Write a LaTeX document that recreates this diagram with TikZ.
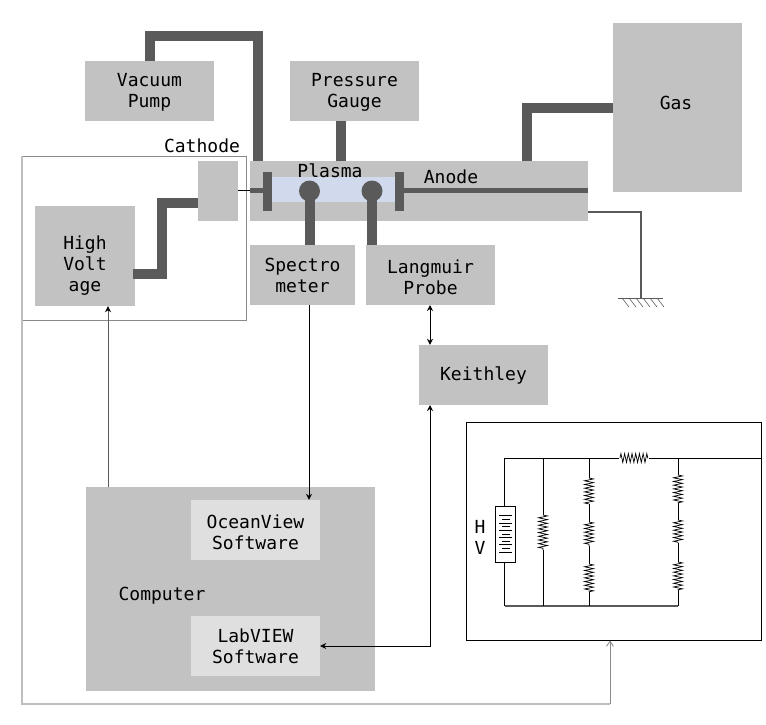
\documentclass[tikz,border=0pt]{standalone}
\usepackage{fontspec}
\setmonofont{DejaVu Sans Mono}
\usepackage{xcolor}
\usetikzlibrary{arrows.meta,calc,decorations.pathmorphing}
\definecolor{RigGray}{HTML}{C2C2C2}
\definecolor{RigPale}{HTML}{DFDFDF}
\definecolor{RigPipe}{HTML}{5A5A5A}
\definecolor{RigPlasma}{HTML}{D0DAEC}
\definecolor{RigFrame}{HTML}{8A8A8A}
\definecolor{RigLoop}{HTML}{BEBEBE}
\newcommand{\dropby}[1]{\rule{0pt}{\dimexpr 13.5pt+2\dimexpr #1pt\relax\relax}}
\tikzset{
  rigbox/.style={fill=RigGray,inner sep=0pt,align=center},
  softbox/.style={fill=RigPale,inner sep=0pt,align=center},
  pipe/.style={RigPipe,line width=10pt,line join=miter},
  sig/.style={black,line width=0.9pt,-{Stealth[length=6pt,width=6pt,color=black]}},
  sigboth/.style={black,line width=0.9pt,{Stealth[length=6pt,width=6pt]}-{Stealth[length=6pt,width=6pt]}},
  wire/.style={black,line width=0.7pt},
  res/.style={wire,decorate,decoration={zigzag,segment length=3.7pt,amplitude=4.5pt}},
}
\begin{document}
\begin{tikzpicture}[x=1pt,y=-1pt,font=\ttfamily\fontsize{18}{21}\selectfont]
  \path[use as bounding box] (0,0) rectangle (766,724);

  % High voltage enclosure
  \node[draw=RigFrame,line width=0.9pt,minimum width=224pt,minimum height=164pt,inner sep=0pt]
    (hvframe) at (134,238) {};

  % Gray boxes
  \node[rigbox,minimum width=129pt,minimum height=60pt] (vac) at (149.5,91) {\dropby{1}Vacuum\\Pump};
  \node[rigbox,minimum width=129pt,minimum height=60pt] (gauge) at (354.5,91) {\dropby{1}Pressure\\Gauge};
  \node[rigbox,minimum width=129pt,minimum height=169pt] (gas) at (677.5,107.5) {};
  \node[rigbox,minimum width=338pt,minimum height=60pt] (tube) at (419,191) {};
  \node[rigbox,minimum width=40pt,minimum height=60pt] (cat) at (218,191) {};
  \node[rigbox,minimum width=100pt,minimum height=100pt] (hv) at (85,256) {\dropby{10}High\\Volt\\age};
  \node[rigbox,minimum width=105pt,minimum height=60pt] (spec) at (302.5,275) {Spectro\\meter};
  \node[rigbox,minimum width=129pt,minimum height=60pt] (lang) at (430.5,275) {\dropby{2}Langmuir\\Probe};
  \node[rigbox,minimum width=129pt,minimum height=60pt] (keith) at (483.5,375) {Keithley};
  \node[rigbox,minimum width=289pt,minimum height=204pt] (comp) at (230.5,589) {};
  \node[softbox,minimum width=129pt,minimum height=60pt] (ocean) at (255.5,530) {\dropby{2}OceanView\\Software};
  \node[softbox,minimum width=129pt,minimum height=60pt] (lab) at (255.5,646) {LabVIEW\\Software};

  % Discharge region
  \node[fill=RigPlasma,inner sep=0pt,minimum width=123pt,minimum height=25pt] (plasma) at (333.5,189.5) {};

  % Labels that stand alone
  \node (gaslabel) at (676,103) {Gas};
  \node (catlabel) at (202,146) {Cathode};
  \node (plasmalabel) at (330,171) {Plasma};
  \node (anlabel) at (451,177) {Anode};
  \node (complabel) at (162,596) {Computer};

  % Pipes
  \coordinate (pumpcorner) at (258,36);
  \coordinate (gaugeport) at (341,121);
  \coordinate (gascorner) at (527,108);
  \coordinate (hvport) at (133,274);
  \coordinate (hvcorner) at (162,203);
  \draw[pipe] (vac.north) |- (pumpcorner) -- (pumpcorner |- tube.north);
  \draw[pipe] (gaugeport) -- (gaugeport |- tube.north);
  \draw[pipe] (gas.west |- gascorner) -- (gascorner) -- (gascorner |- tube.north);
  \draw[pipe] (hvport) -- (hvport -| hvcorner) -- (hvcorner) -- (hvcorner -| cat.west);

  % Electrodes and probes
  \node[fill=RigPipe,inner sep=0pt,minimum width=9pt,minimum height=39pt] (catplate) at (267.5,191.5) {};
  \node[fill=RigPipe,inner sep=0pt,minimum width=9pt,minimum height=39pt] (anplate) at (399.5,191.5) {};
  \node[circle,fill=RigPipe,inner sep=0pt,minimum size=21pt] (ballone) at (309.5,191) {};
  \node[circle,fill=RigPipe,inner sep=0pt,minimum size=21pt] (balltwo) at (372,191) {};
  \draw[pipe] (ballone.center) -- (ballone |- spec.north);
  \draw[pipe] (balltwo.center) -- (balltwo |- lang.north);
  \draw[RigPipe,line width=5pt] (anplate.east |- 0,190.5) -- (tube.east |- 0,190.5);
  \draw[RigPipe,line width=5pt] (catplate.west |- 0,190.5) -- (tube.west |- 0,190.5);
  \draw[black,line width=0.7pt] (cat.east |- 0,190.5) -- (tube.west |- 0,190.5);

  % Ground
  \coordinate (gndstart) at (588,212);
  \coordinate (gndfoot) at (641,298);
  \draw[RigPipe,line width=1.4pt] (gndstart) -- (gndfoot |- gndstart) -- (gndfoot);
  \draw[RigPipe,line width=0.9pt] (618,298) -- (663,298);
  \foreach \gx in {622,629,636,643,650,657} {
    \draw[RigPipe,line width=0.6pt] (\gx,298) -- ++(7,9);
  }

  % Signal lines
  \coordinate (compout) at (108,487);
  \coordinate (specout) at (309,305);
  \coordinate (langport) at (430,305);
  \coordinate (keithport) at (430,405);
  \draw[sig,RigPipe] (compout) -- (compout |- hv.south);
  \draw[sig] (specout) -- (specout |- ocean.north);
  \draw[sigboth] (langport) -- (langport |- keith.north);
  \draw[sigboth] (keithport) |- (lab.east);

  % Circuit panel
  \node[draw=black,line width=1pt,minimum width=295pt,minimum height=218pt,inner sep=0pt]
    (circ) at (613.5,531) {};
  \coordinate (topleft) at (504.5,458);
  \coordinate (botleft) at (504.5,606);
  \node[draw=black,line width=0.8pt,fill=white,inner sep=0pt,minimum width=20pt,minimum height=56pt]
    (batt) at (505.3,534.5) {};
  \node (hlabel) at (480,527) {H};
  \node (vlabel) at (480,548) {V};
  \foreach \bi in {0,2,...,10} {
    \draw[wire] (499,515.7+3.63*\bi) -- (512,515.7+3.63*\bi);
  }
  \foreach \bi in {1,3,...,9} {
    \draw[wire] (502,515.7+3.63*\bi) -- (510,515.7+3.63*\bi);
  }
  \draw[wire] (topleft |- batt.north) -- (topleft) -- (topleft -| circ.east);
  \draw[wire] (botleft |- batt.south) -- (botleft);
  \draw[RigPipe,line width=1.3pt] (botleft) -- (678,606);

  % Branch wires and resistors
  \foreach \rx/\ra/\rb in {543/458/515,543/550/606,589/458/478,589/504/522,589/546/564,589/592/606,678/458/475,678/503/520,678/543/562,678/590/606} {
    \draw[wire] (\rx,\ra) -- (\rx,\rb);
  }
  \foreach \rx/\ra/\rb in {543/515/550,589/478/504,589/522/546,589/564/592,678/475/503,678/520/543,678/562/590} {
    \draw[res] (\rx,\ra) -- (\rx,\rb);
  }
  \fill[white] (619,452) rectangle (649,464);
  \draw[res] (620,458) -- (648,458);

  % Return loop from the enclosure to the panel
  \coordinate (loopcorner) at (610,704);
  \draw[RigLoop,line width=2pt] (hvframe.north west) |- (loopcorner);
  \draw[RigFrame,line width=0.9pt,-{Straight Barb[length=5pt,width=7pt]}] (loopcorner) -- (loopcorner |- circ.south);
\end{tikzpicture}
\end{document}
